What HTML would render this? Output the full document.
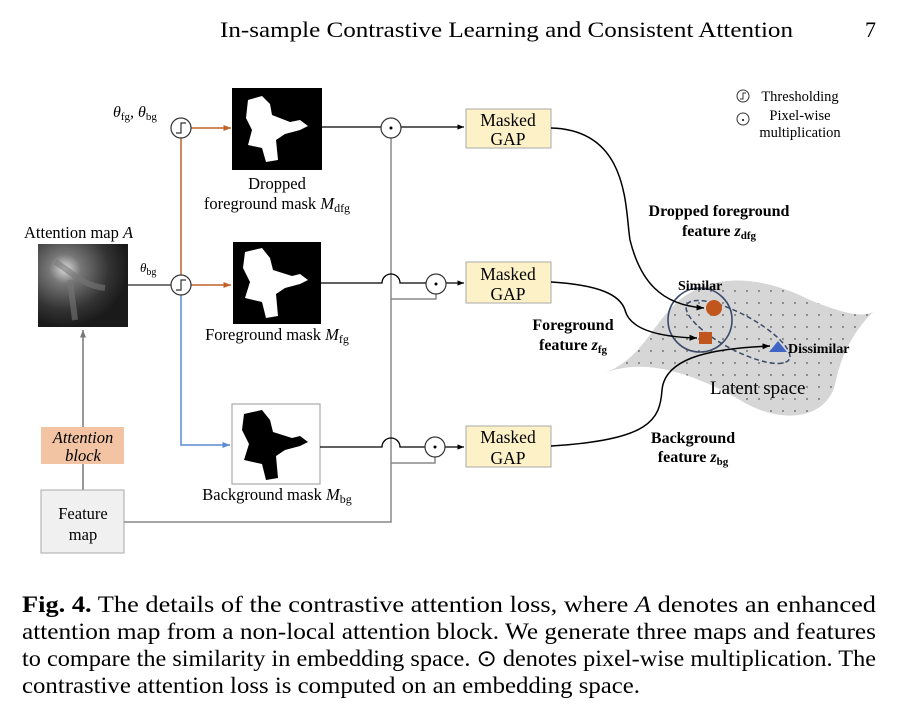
<!DOCTYPE html>
<html><head><meta charset="utf-8"><style>
body{margin:0;background:#fff}
svg{display:block;font-family:"Liberation Serif",serif}
</style></head><body>
<svg width="898" height="706" viewBox="0 0 898 706" xmlns="http://www.w3.org/2000/svg">
<defs>
<pattern id="dots" width="12" height="12" patternUnits="userSpaceOnUse"><rect width="12" height="12" fill="#d6d6d6"/><circle cx="3" cy="3" r="1" fill="#777"/></pattern>
<radialGradient id="att" cx="0.3" cy="0.3" r="0.7"><stop offset="0" stop-color="#ddd"/><stop offset="0.25" stop-color="#777"/><stop offset="0.7" stop-color="#333"/><stop offset="1" stop-color="#1a1a1a"/></radialGradient>
<marker id="ao" markerWidth="6" markerHeight="6" refX="5" refY="3" orient="auto"><path d="M0,1 L5,3 L0,5z" fill="#c0612a"/></marker>
<marker id="ab" markerWidth="6" markerHeight="6" refX="5" refY="3" orient="auto"><path d="M0,1 L5,3 L0,5z" fill="#5b8bd0"/></marker>
<marker id="ak" markerWidth="6" markerHeight="6" refX="5" refY="3" orient="auto"><path d="M0,1 L5,3 L0,5z" fill="#000"/></marker>
<marker id="ag" markerWidth="6" markerHeight="6" refX="5" refY="3" orient="auto"><path d="M0,1 L5,3 L0,5z" fill="#777"/></marker>
</defs>
<text x="220" y="37" font-size="22" textLength="573" lengthAdjust="spacingAndGlyphs">In-sample Contrastive Learning and Consistent Attention</text>
<text x="876" y="37" font-size="22" text-anchor="end">7</text>

<!-- latent space -->
<path d="M605,373 C650,355 655,310 695,290 C740,268 790,290 810,300 C840,312 860,318 873,312 C850,335 840,360 835,385 C825,420 780,425 740,400 C705,380 650,355 605,373 Z" fill="url(#dots)"/>
<circle cx="700" cy="320" r="32" fill="none" stroke="#3c4a6a" stroke-width="1.6"/>
<ellipse cx="738" cy="332" rx="58" ry="18" transform="rotate(28 738 332)" fill="none" stroke="#3c4a6a" stroke-width="1.5" stroke-dasharray="5,3"/>
<circle cx="714" cy="308" r="8" fill="#c0561e"/>
<rect x="699" y="332" width="13" height="12" fill="#c0561e"/>
<path d="M778,341 L787,352 L769,352Z" fill="#3f66c4"/>
<text x="678" y="290" font-size="14" font-weight="bold">Similar</text>
<text x="788" y="353" font-size="14" font-weight="bold">Dissimilar</text>
<text x="710" y="394" font-size="19">Latent space</text>

<!-- attention map -->
<text x="24" y="238" font-size="16.5">Attention map <tspan font-style="italic">A</tspan></text>
<rect x="38" y="244" width="90" height="83" fill="url(#att)"/>
<path d="M55,262 C70,270 80,285 105,288 M70,280 L75,320" stroke="#777" stroke-width="6" fill="none" opacity="0.6"/>
<line x1="83" y1="490" x2="83" y2="330" stroke="#777" stroke-width="1.5" marker-end="url(#ag)"/>
<rect x="41" y="427" width="83" height="37" fill="#f2c4a4"/>
<text x="83" y="443" font-size="16.5" font-style="italic" text-anchor="middle">Attention</text>
<text x="83" y="461" font-size="16.5" font-style="italic" text-anchor="middle">block</text>
<rect x="41" y="490" width="83" height="63" fill="#f0f0f0" stroke="#aaa"/>
<text x="83" y="519" font-size="16.5" text-anchor="middle">Feature</text>
<text x="83" y="540" font-size="16.5" text-anchor="middle">map</text>

<!-- lines -->
<line x1="128" y1="285" x2="171" y2="285" stroke="#777" stroke-width="2"/>
<line x1="181" y1="138" x2="181" y2="275" stroke="#c0612a" stroke-width="1.5"/>
<line x1="191" y1="128" x2="231" y2="128" stroke="#c0612a" stroke-width="1.5" marker-end="url(#ao)"/>
<line x1="191" y1="285" x2="231" y2="285" stroke="#c0612a" stroke-width="1.5" marker-end="url(#ao)"/>
<polyline points="181,295 181,445 230,445" fill="none" stroke="#5b8bd0" stroke-width="1.5" marker-end="url(#ab)"/>
<g fill="#fff" stroke="#333" stroke-width="1.2">
<circle cx="181" cy="128" r="10"/><circle cx="181" cy="285" r="10"/></g>
<path d="M176,133 h5 v-10 h5 M176,290 h5 v-10 h5" fill="none" stroke="#333" stroke-width="1.2"/>
<text x="113" y="117" font-size="16" font-style="italic">θ<tspan font-size="11" font-style="normal" dy="3">fg</tspan><tspan dy="-3">, θ</tspan><tspan font-size="11" font-style="normal" dy="3">bg</tspan></text>
<text x="140" y="272" font-size="13" font-style="italic">θ<tspan font-size="10" font-style="normal" dy="3">bg</tspan></text>

<!-- masks -->
<rect x="232" y="88" width="90" height="82" fill="#000"/>
<path d="M248,100 L262,96 L270,104 L272,115 L290,122 L300,120 L308,126 L300,130 L285,134 L276,140 L278,160 L266,162 L262,148 L248,145 L252,130 L246,118Z" fill="#fff"/>
<text x="277" y="189" font-size="16.5" text-anchor="middle">Dropped</text>
<text x="277" y="209" font-size="16.5" text-anchor="middle">foreground mask <tspan font-style="italic">M</tspan><tspan font-size="12" dy="3">dfg</tspan></text>
<rect x="233" y="242" width="88" height="82" fill="#000"/>
<path d="M245,252 L262,248 L270,258 L273,270 L292,276 L300,274 L308,280 L300,284 L285,288 L276,294 L278,316 L266,318 L262,302 L245,298 L250,282 L243,268Z" fill="#fff"/>
<text x="277" y="340" font-size="16.5" text-anchor="middle">Foreground mask <tspan font-style="italic">M</tspan><tspan font-size="12" dy="3">fg</tspan></text>
<rect x="232" y="404" width="88" height="80" fill="#fff" stroke="#999"/>
<path d="M244,414 L262,410 L270,420 L273,432 L292,438 L300,436 L308,442 L300,446 L285,450 L276,456 L278,478 L266,480 L262,464 L244,460 L249,444 L242,430Z" fill="#000"/>
<text x="277" y="500" font-size="16.5" text-anchor="middle">Background mask <tspan font-style="italic">M</tspan><tspan font-size="12" dy="3">bg</tspan></text>

<!-- gray feature routing -->
<polyline points="124,522 391,522 391,138" fill="none" stroke="#888" stroke-width="1.5"/>
<polyline points="391,299 436,299 436,294" fill="none" stroke="#888" stroke-width="1.5"/>
<polyline points="391,463 435,463 435,457" fill="none" stroke="#888" stroke-width="1.5"/>

<!-- black lines -->
<line x1="322" y1="127" x2="381" y2="127" stroke="#000" stroke-width="1.3"/>
<line x1="401" y1="127" x2="464" y2="127" stroke="#000" stroke-width="1.3" marker-end="url(#ak)"/>
<path d="M321,283 H382 A9,9 0 0 1 400,283 H426" fill="none" stroke="#000" stroke-width="1.3"/>
<line x1="446" y1="283" x2="464" y2="283" stroke="#000" stroke-width="1.3" marker-end="url(#ak)"/>
<path d="M320,447 H382 A9,9 0 0 1 400,447 H425" fill="none" stroke="#000" stroke-width="1.3"/>
<line x1="445" y1="447" x2="464" y2="447" stroke="#000" stroke-width="1.3" marker-end="url(#ak)"/>
<g fill="#fff" stroke="#333" stroke-width="1.2">
<circle cx="391" cy="128" r="10"/><circle cx="436" cy="284" r="10"/><circle cx="435" cy="447" r="10"/></g>
<g fill="#000"><circle cx="391" cy="128" r="1.5"/><circle cx="436" cy="284" r="1.5"/><circle cx="435" cy="447" r="1.5"/></g>

<!-- GAP boxes -->
<g fill="#fdf1c8" stroke="#aaa"><rect x="466" y="109" width="85" height="39"/><rect x="466" y="262" width="85" height="41"/><rect x="466" y="426" width="85" height="41"/></g>
<g font-size="17.5" text-anchor="middle">
<text x="508" y="126">Masked</text><text x="508" y="145">GAP</text>
<text x="508" y="280">Masked</text><text x="508" y="300">GAP</text>
<text x="508" y="443">Masked</text><text x="508" y="464">GAP</text></g>

<!-- curves -->
<path d="M551,128 C630,130 625,210 630,240 C640,280 660,305 704,308" fill="none" stroke="#000" stroke-width="1.5" marker-end="url(#ak)"/>
<path d="M551,282 C600,285 620,295 625,310 C630,330 660,337 697,338" fill="none" stroke="#000" stroke-width="1.5" marker-end="url(#ak)"/>
<path d="M551,446 C650,440 660,420 662,390 C665,355 720,348 770,346" fill="none" stroke="#000" stroke-width="1.5" marker-end="url(#ak)"/>
<g font-size="16" font-weight="bold" text-anchor="middle">
<text x="719" y="216">Dropped foreground</text>
<text x="719" y="236">feature <tspan font-style="italic">z</tspan><tspan font-size="11" dy="3">dfg</tspan></text>
<text x="573" y="330">Foreground</text>
<text x="573" y="350">feature <tspan font-style="italic">z</tspan><tspan font-size="11" dy="3">fg</tspan></text>
<text x="693" y="443">Background</text>
<text x="693" y="462">feature <tspan font-style="italic">z</tspan><tspan font-size="11" dy="3">bg</tspan></text></g>

<!-- legend -->
<circle cx="743" cy="96" r="6" fill="none" stroke="#333"/><path d="M740,99 h3 v-6 h3" fill="none" stroke="#333"/>
<circle cx="743" cy="119" r="6" fill="none" stroke="#333"/><circle cx="743" cy="120" r="1" fill="#000"/>
<g font-size="14.5" text-anchor="middle"><text x="800" y="101">Thresholding</text><text x="800" y="120">Pixel-wise</text><text x="800" y="137">multiplication</text></g>

<!-- caption -->
<g font-size="23">
<text x="22" y="612" textLength="854" lengthAdjust="spacingAndGlyphs"><tspan font-weight="bold">Fig. 4.</tspan>  The details of the contrastive attention loss, where <tspan font-style="italic">A</tspan> denotes an enhanced</text>
<text x="22" y="639" textLength="854" lengthAdjust="spacingAndGlyphs">attention map from a non-local attention block. We generate three maps and features</text>
<text x="22" y="666" textLength="854" lengthAdjust="spacingAndGlyphs">to compare the similarity in embedding space. ⊙ denotes pixel-wise multiplication. The</text>
<text x="22" y="693" textLength="618" lengthAdjust="spacingAndGlyphs">contrastive attention loss is computed on an embedding space.</text>
</g>
</svg>
</body></html>
